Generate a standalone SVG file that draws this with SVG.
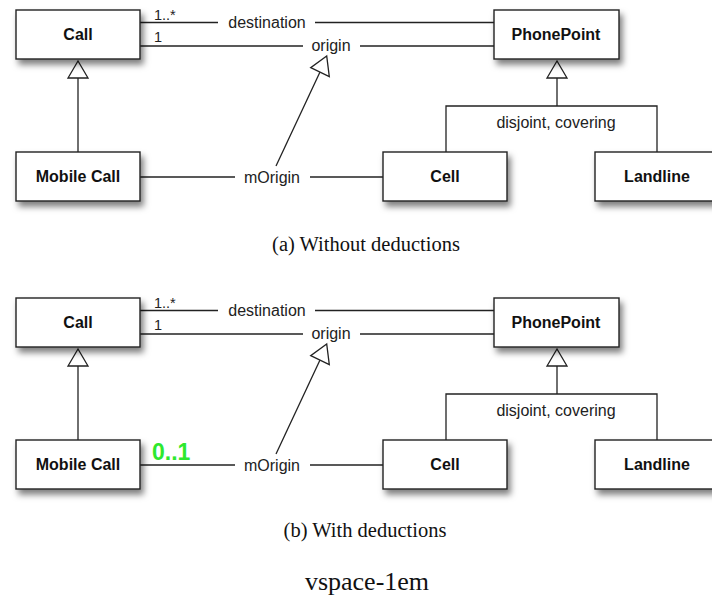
<svg xmlns="http://www.w3.org/2000/svg" width="712" height="597" viewBox="0 0 712 597">
<style>
.box{fill:#fff;stroke:#222;stroke-width:1.4;filter:url(#sh)}
.lbl{font-family:"Liberation Sans",Arial,sans-serif;font-weight:bold;font-size:16px;fill:#111;text-anchor:middle}
.al{font-family:"Liberation Sans",Arial,sans-serif;font-size:16px;fill:#222;text-anchor:middle}
.mult{font-family:"Liberation Sans",Arial,sans-serif;font-size:14.5px;fill:#222}
.ln{stroke:#222;stroke-width:1.3;fill:none}
.tri{fill:#fff;stroke:#222;stroke-width:1.3}
.cap{font-family:"Liberation Serif","Times New Roman",serif;font-size:20.5px;fill:#111;text-anchor:middle}
.green{font-family:"Liberation Sans",Arial,sans-serif;font-weight:bold;font-size:23px;fill:#2ee82e}
</style>
<defs>
<filter id="sh" x="-20%" y="-30%" width="150%" height="180%">
<feDropShadow dx="3" dy="5" stdDeviation="3" flood-color="#000" flood-opacity="0.5"/>
</filter>
<g id="diagram">
<g id="connectors">
<polyline class="ln" points="140,22.5 218,22.5"/>
<polyline class="ln" points="315,22.5 494,22.5"/>
<polyline class="ln" points="138,46 303,46"/>
<polyline class="ln" points="360,46 494,46"/>
<polyline class="ln" points="140,177 235,177"/>
<polyline class="ln" points="310,177 383,177"/>
<line class="ln" x1="78" y1="152" x2="78" y2="78"/>
<polygon class="tri" points="78,61 68,78 88,78"/>
<line class="ln" x1="276" y1="166" x2="320" y2="72"/>
<polygon class="tri" points="326.7,56 310.7,67.7 329.3,76.7"/>
<line class="ln" x1="557" y1="78" x2="557" y2="106"/>
<polygon class="tri" points="557,61 547,78 567,78"/>
<polyline class="ln" points="446,152 446,106 657,106 657,152"/>
<text class="al" x="267" y="28">destination</text>
<text class="al" x="331" y="51">origin</text>
<text class="al" x="272" y="182.5">mOrigin</text>
<text class="al" x="556" y="128">disjoint, covering</text>
<text class="mult" x="154" y="20">1..*</text>
<text class="mult" x="154" y="42">1</text>
</g>
<g id="n-call"><rect class="box" x="16" y="10" width="124" height="49"/><text class="lbl" x="78" y="40">Call</text></g>
<g id="n-phonepoint"><rect class="box" x="494" y="10" width="125" height="49"/><text class="lbl" x="556" y="40">PhonePoint</text></g>
<g id="n-mobilecall"><rect class="box" x="16" y="152" width="124" height="49"/><text class="lbl" x="78" y="182">Mobile Call</text></g>
<g id="n-cell"><rect class="box" x="383" y="152" width="124" height="49"/><text class="lbl" x="445" y="182">Cell</text></g>
<g id="n-landline"><rect class="box" x="595" y="152" width="124" height="49"/><text class="lbl" x="657" y="182">Landline</text></g>
</g>
</defs>
<g id="diagram-a">
<use href="#diagram"/>
</g>
<text class="cap" x="366" y="251">(a) Without deductions</text>
<g id="diagram-b" transform="translate(0,288)">
<use href="#diagram"/>
<text class="green" x="152" y="172">0..1</text>
</g>
<text class="cap" x="365" y="537">(b) With deductions</text>
<text class="cap" x="367" y="590" style="font-size:26px">vspace-1em</text>
</svg>
